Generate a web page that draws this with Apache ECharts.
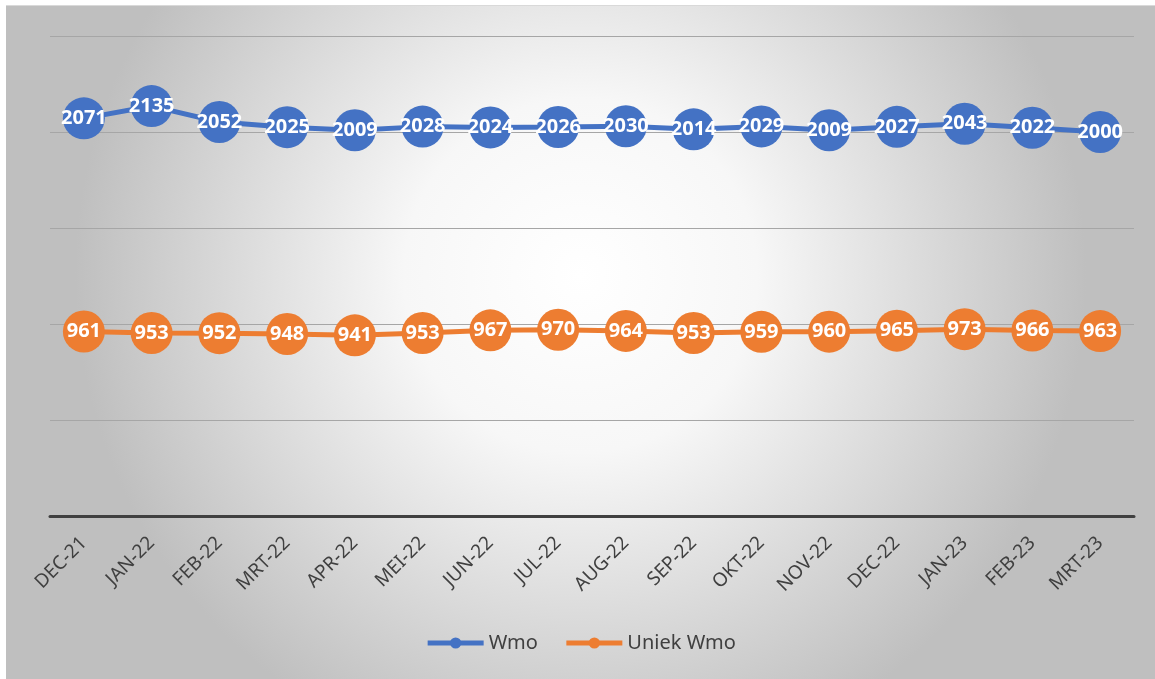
<!DOCTYPE html>
<html><head><meta charset="utf-8">
<script src="https://cdn.jsdelivr.net/npm/echarts@6/dist/echarts.min.js"></script>
<style>html,body{margin:0;padding:0;background:#fff;}#c{position:absolute;left:6px;top:5px;width:1149px;height:674px;border-top:1px solid #d9d9d9;}</style>
</head><body><div id="c"></div>
<script>
const categories = ['DEC-21','JAN-22','FEB-22','MRT-22','APR-22','MEI-22','JUN-22','JUL-22','AUG-22','SEP-22','OKT-22','NOV-22','DEC-22','JAN-23','FEB-23','MRT-23'];
const wmo = [2071,2135,2052,2025,2009,2028,2024,2026,2030,2014,2029,2009,2027,2043,2022,2000];
const uniekWmo = [961,953,952,948,941,953,967,970,964,953,959,960,965,973,966,963];
const seriesNames = ['Wmo','Uniek Wmo'];

const chart = echarts.init(document.getElementById('c'));
const labelStyle = {show:true, position:'inside', color:'#fff', fontWeight:'bold', fontSize:20, fontFamily:'Noto Sans'};
chart.setOption({
  backgroundColor:{type:'radial', x:0.5, y:0.4, r:0.75, colorStops:[{offset:0,color:'#ffffff'},{offset:0.35,color:'#f7f7f7'},{offset:1,color:'#bfbfbf'}]},
  animation:false,
  grid:{left:44, right:21, top:30, bottom:164},
  legend:{bottom:22, left:'center', itemWidth:56, itemHeight:14, itemGap:26,
    lineStyle:{width:5}, textStyle:{fontSize:20, color:'#404040', fontFamily:'Noto Sans'}, data:seriesNames},
  xAxis:{type:'category', data:categories, boundaryGap:true,
    axisLine:{lineStyle:{color:'#404040', width:3}}, axisTick:{show:false},
    axisLabel:{rotate:45, fontSize:19, color:'#404040', margin:24, fontFamily:'Noto Sans'}},
  yAxis:{type:'value', min:0, max:2500, interval:500, axisLabel:{show:false}, axisLine:{show:false}, axisTick:{show:false},
    splitLine:{lineStyle:{color:'#a6a6a6', width:1}}},
  series:[
    {name:seriesNames[0], type:'line', data:wmo, symbol:'circle', symbolSize:42, itemStyle:{color:'#4472C4'}, lineStyle:{width:5, color:'#4472C4'}, label:labelStyle, z:3},
    {name:seriesNames[1], type:'line', data:uniekWmo, symbol:'circle', symbolSize:42, itemStyle:{color:'#ED7D31'}, lineStyle:{width:5, color:'#ED7D31'}, label:labelStyle, z:3}
  ]
});
</script></body></html>
